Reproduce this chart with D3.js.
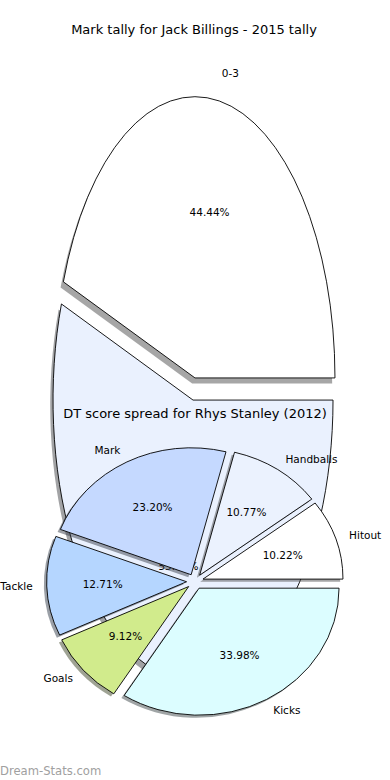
<!DOCTYPE html>
<html>
<head>
<meta charset="utf-8">
<script src="https://cdn.jsdelivr.net/npm/d3@7"></script>
<style>
  html, body { margin: 0; padding: 0; background: #ffffff; }
  svg { display: block; }
  text { font-family: "DejaVu Sans", sans-serif; }
</style>
</head>
<body>
<svg id="chart" width="390" height="780"></svg>
<script>
// ---------- data ----------
const title1 = "Mark tally for Jack Billings - 2015 tally";
const pie1Categories = ["0-3", "4-6"];
const pie1Values = [44.44, 55.56];
const pie1Colors = ["#ffffff", "#eaf1fe"];

const title2 = "DT score spread for Rhys Stanley (2012)";
const pie2Categories = ["Hitout", "Handballs", "Mark", "Tackle", "Goals", "Kicks"];
const pie2Values = [10.22, 10.77, 23.20, 12.71, 9.12, 33.98];
const pie2Colors = ["#ffffff", "#ebf2fe", "#c5d9ff", "#b5d6ff", "#d1eb8c", "#dcfdff"];

const watermark = "Dream-Stats.com";

// ---------- drawing ----------
const svg = d3.select("#chart");

function drawPie(g, cfg) {
  const x = d3.scaleLinear().domain([-1, 1]).range(cfg.xRange);
  const y = d3.scaleLinear().domain([-1, 1]).range(cfg.yRange);
  const sx = (x(1) - x(-1)) / 2;
  const sy = (y(-1) - y(1)) / 2;
  const data = cfg.categories.map((c, i) => ({ label: c, value: cfg.values[i], color: cfg.colors[i] }));
  const pie = d3.pie().sort(null).value(d => d.value)
    .startAngle(Math.PI / 2).endAngle(Math.PI / 2 - 2 * Math.PI);
  const arcs = pie(data);
  const total = d3.sum(cfg.values);
  arcs.forEach(a => {
    const m = (a.startAngle + a.endAngle) / 2;
    a.cosT = Math.sin(m);
    a.sinT = Math.cos(m);
    a.dx = cfg.explode * a.cosT;
    a.dy = cfg.explode * a.sinT;
  });
  const arc = d3.arc().innerRadius(0).outerRadius(1);

  // shadows
  g.append("g").selectAll("path").data(arcs).join("path")
    .attr("d", arc)
    .attr("transform", a => `translate(${x(a.dx - 0.02)},${y(a.dy - 0.02)}) scale(${sx},${sy})`)
    .attr("fill", a => { const c = d3.rgb(a.data.color); return d3.rgb(c.r * 0.3, c.g * 0.3, c.b * 0.3).toString(); })
    .attr("fill-opacity", 0.5);

  // wedges
  g.append("g").selectAll("path").data(arcs).join("path")
    .attr("d", arc)
    .attr("transform", a => `translate(${x(a.dx)},${y(a.dy)}) scale(${sx},${sy})`)
    .attr("fill", a => a.data.color)
    .attr("stroke", "#000")
    .attr("stroke-width", 0.9)
    .attr("vector-effect", "non-scaling-stroke")
    .attr("stroke-linejoin", "miter");

  // category labels
  g.append("g").selectAll("text").data(arcs).join("text")
    .attr("x", a => x(a.dx + 1.1 * a.cosT))
    .attr("y", a => y(a.dy + 1.1 * a.sinT))
    .attr("dy", "0.35em")
    .attr("text-anchor", a => (a.cosT > 0 ? "start" : "end"))
    .attr("font-size", 10.5)
    .attr("fill", "#000")
    .text(a => a.data.label);

  // percentage labels
  g.append("g").selectAll("text").data(arcs).join("text")
    .attr("x", a => x(a.dx + 0.6 * a.cosT))
    .attr("y", a => y(a.dy + 0.6 * a.sinT))
    .attr("dy", "0.35em")
    .attr("text-anchor", "middle")
    .attr("font-size", 10.5)
    .attr("fill", "#000")
    .text(a => d3.format(".2f")(100 * a.data.value / total) + "%");

  // title
  g.append("text")
    .attr("x", cfg.titleX)
    .attr("y", cfg.titleY)
    .attr("text-anchor", "middle")
    .attr("font-size", 13)
    .attr("fill", "#000")
    .text(cfg.title);
}

drawPie(svg.append("g"), {
  title: title1, titleX: 194, titleY: 34,
  categories: pie1Categories, values: pie1Values, colors: pie1Colors,
  xRange: [54, 334], yRange: [670, 108], explode: 0.04
});

drawPie(svg.append("g"), {
  title: title2, titleX: 195, titleY: 417.5,
  categories: pie2Categories, values: pie2Values, colors: pie2Colors,
  xRange: [55, 335], yRange: [708.5, 454.5], explode: 0.06
});

svg.append("text")
  .attr("x", 0)
  .attr("y", 775)
  .attr("font-size", 11.6)
  .attr("fill", "#a0a0a0")
  .text(watermark);
</script>
</body>
</html>
